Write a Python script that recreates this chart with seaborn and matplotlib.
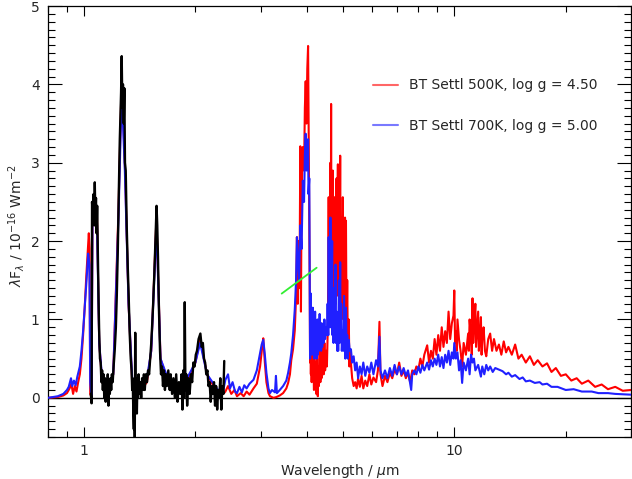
import numpy as np
import pandas as pd
import seaborn as sns
import matplotlib.pyplot as plt
import matplotlib.ticker as ticker

# observed spectrum (black), wavelength in micron, flux in 1e-16 W m^-2
obs_wave = [1.044, 1.049, 1.052, 1.057, 1.062, 1.066, 1.070, 1.074, 1.078, 1.082, 1.086, 1.090,
            1.095, 1.100, 1.105, 1.110, 1.115, 1.120, 1.125, 1.130, 1.135, 1.140, 1.145, 1.150,
            1.155, 1.160, 1.165, 1.170, 1.175, 1.180, 1.185, 1.190, 1.196, 1.203, 1.211, 1.220,
            1.227, 1.235, 1.242, 1.250, 1.255, 1.260, 1.265, 1.270, 1.275, 1.281, 1.286, 1.291,
            1.297, 1.305, 1.313, 1.321, 1.330, 1.338, 1.345, 1.350, 1.355, 1.360, 1.364, 1.368,
            1.372, 1.376, 1.380, 1.385, 1.390, 1.395, 1.400, 1.405, 1.412, 1.420, 1.428, 1.436,
            1.444, 1.452, 1.460, 1.470, 1.480, 1.490, 1.500, 1.510, 1.520, 1.535, 1.550, 1.562,
            1.571, 1.578, 1.585, 1.595, 1.605, 1.615, 1.625, 1.635, 1.645, 1.655, 1.665, 1.675,
            1.690, 1.705, 1.715, 1.730, 1.745, 1.760, 1.775, 1.790, 1.805, 1.820, 1.835, 1.845,
            1.855, 1.865, 1.872, 1.880, 1.890, 1.900, 1.915, 1.930, 1.945, 1.960, 1.975, 1.990,
            2.005, 2.020, 2.040, 2.063, 2.080, 2.095, 2.110, 2.125, 2.140, 2.155, 2.170, 2.185,
            2.200, 2.215, 2.230, 2.245, 2.260, 2.275, 2.290, 2.305, 2.320, 2.335, 2.350, 2.365,
            2.380, 2.393]
obs_flux = [0.05, -0.07, 2.5, 2.3, 2.6, 2.2, 2.75, 2.3, 2.55, 2.1, 2.45, 1.9,
            1.3, 0.8, 0.5, 0.45, 0.2, 0.35, 0.1, 0.3, 0.0, 0.25, -0.05, 0.2,
            0.05, 0.3, -0.1, 0.2, 0.05, 0.25, 0.1, 0.3, 0.2, 0.4, 0.6, 0.9,
            1.3, 1.9, 2.6, 3.3, 3.6, 3.9, 4.36, 3.7, 4.0, 3.5, 3.95, 3.0,
            2.9, 2.2, 1.7, 1.3, 0.8, 0.5, 0.35, 0.1, 0.2, -0.2, -0.4, 0.25,
            -0.5, 0.83, -0.1, 0.2, -0.2, 0.25, 0.0, 0.3, 0.05, 0.2, 0.0, 0.25,
            0.1, 0.3, 0.1, 0.3, 0.2, 0.35, 0.3, 0.5, 0.7, 1.1, 1.6, 2.1,
            2.45, 2.2, 1.8, 1.1, 0.6, 0.3, 0.4, 0.15, 0.35, 0.1, 0.3, 0.15,
            0.35, 0.1, 0.3, 0.05, 0.25, 0.0, 0.3, -0.05, 0.2, 0.05, 0.3, -0.15,
            0.35, 0.0, 1.22, 0.1, 0.3, -0.1, 0.25, 0.05, 0.3, 0.2, 0.45, 0.4,
            0.55, 0.6, 0.75, 0.82, 0.65, 0.7, 0.5, 0.45, 0.3, 0.35, 0.15, 0.2,
            -0.05, 0.15, 0.05, 0.2, -0.1, 0.15, -0.15, 0.1, 0.0, 0.25, -0.15, 0.15,
            0.05, 0.47]

# BT Settl 500K, log g = 4.50 (red)
red_wave = [0.80, 0.85, 0.88, 0.90, 0.915, 0.925, 0.935, 0.945, 0.955, 0.965, 0.975, 0.985,
            0.995, 1.005, 1.015, 1.025, 1.031, 1.036, 1.040, 1.049, 1.055, 1.07, 1.085, 1.10,
            1.12, 1.16, 1.20, 1.24, 1.265, 1.29, 1.32, 1.35, 1.40, 1.48, 1.52, 1.57,
            1.61, 1.70, 1.85, 2.00, 2.06, 2.15, 2.30, 2.38,
            2.41, 2.45, 2.50, 2.55, 2.59, 2.65, 2.70, 2.75, 2.80, 2.87, 2.93, 2.99,
            3.03, 3.05, 3.08, 3.11, 3.15, 3.18, 3.25, 3.31, 3.38, 3.45, 3.52, 3.56,
            3.60, 3.63, 3.67, 3.71, 3.74, 3.76, 3.78, 3.80, 3.82, 3.84, 3.855, 3.87,
            3.90, 3.93, 3.95, 3.97, 3.99, 4.01, 4.03, 4.05, 4.07,
            4.08, 4.09, 4.10, 4.11, 4.12, 4.13, 4.15, 4.16, 4.18, 4.19, 4.21, 4.22,
            4.24, 4.26, 4.28, 4.29, 4.31, 4.33, 4.35, 4.36, 4.38, 4.39, 4.41, 4.42,
            4.44, 4.46, 4.48, 4.51, 4.53, 4.55, 4.57, 4.58, 4.59, 4.60, 4.61, 4.63,
            4.64, 4.65, 4.66, 4.67, 4.68, 4.70, 4.71, 4.73, 4.74, 4.75, 4.76, 4.78,
            4.79, 4.81, 4.82, 4.85, 4.86, 4.88, 4.90, 4.92, 4.93, 4.95, 4.97, 5.00,
            5.02, 5.04, 5.05, 5.07, 5.08, 5.10, 5.12, 5.14, 5.16, 5.19, 5.21, 5.22,
            5.26, 5.30, 5.35, 5.40, 5.45, 5.50, 5.56, 5.62, 5.68, 5.75, 5.82, 5.90,
            5.97, 6.05, 6.15, 6.22, 6.28, 6.32, 6.40, 6.50, 6.60, 6.70, 6.80, 6.90,
            7.00, 7.10, 7.20, 7.30, 7.40, 7.50, 7.60, 7.70, 7.80, 7.90, 8.00, 8.10,
            8.20, 8.30, 8.45, 8.55, 8.65, 8.75, 8.85, 8.95, 9.05, 9.15, 9.25, 9.35,
            9.45, 9.55, 9.65, 9.75, 9.85, 9.95, 10.0, 10.05, 10.1, 10.15, 10.2, 10.3,
            10.4, 10.5, 10.6, 10.75, 10.9, 10.95, 11.0, 11.1, 11.15, 11.2, 11.25, 11.3,
            11.4, 11.45, 11.5, 11.6, 11.65, 11.7, 11.8, 11.85, 11.9, 12.0, 12.1, 12.2,
            12.35, 12.5, 12.65, 12.8, 13.0, 13.2, 13.4, 13.6, 13.8, 14.0, 14.3, 14.6,
            14.9, 15.2, 15.6, 16.0, 16.4, 16.8, 17.3, 17.8, 18.3, 18.8, 19.4, 20.0,
            20.7, 21.4, 22.1, 23.0, 24.0, 25.0, 26.0, 27.2, 28.5, 30.0]
red_flux = [0.0, 0.01, 0.03, 0.06, 0.12, 0.18, 0.05, 0.15, 0.08, 0.2, 0.3, 0.5,
            0.8, 1.15, 1.55, 1.9, 2.1, 1.9, 0.05, 0.0, 2.4, 2.6, 2.3, 0.7,
            0.2, 0.1, 0.3, 2.4, 4.1, 3.0, 1.2, 0.2, 0.05, 0.2, 0.6, 2.3,
            0.5, 0.15, 0.1, 0.45, 0.75, 0.3, 0.05, 0.05,
            0.08, 0.15, 0.05, 0.1, 0.02, 0.06, 0.02, 0.08, 0.04, 0.12, 0.18, 0.4,
            0.65, 0.76, 0.45, 0.2, 0.06, 0.02, 0.0, 0.01, 0.03, 0.06, 0.12, 0.19,
            0.3, 0.48, 0.62, 0.86, 1.3, 2.05, 1.2, 2.0, 1.4, 3.21, 1.1, 2.6,
            3.2, 2.9, 3.7, 4.04, 3.5, 4.2, 4.49, 3.0, 1.5,
            0.45, 0.9, 0.3, 0.8, 0.2, 0.6, 0.25, 0.55, 0.1, 0.5, 0.2, 0.45,
            0.05, 0.5, 0.02, 0.4, 0.15, 0.6, 0.2, 0.5, 0.25, 0.65, 0.3, 0.55,
            0.3, 0.7, 0.35, 0.6, 0.4, 0.8, 1.5, 2.56, 1.2, 2.3, 1.0, 3.0,
            1.5, 3.75, 1.3, 2.2, 1.2, 2.9, 1.4, 2.4, 1.1, 2.56, 1.3, 2.1,
            1.2, 2.8, 1.4, 2.98, 1.3, 2.2, 1.2, 3.09, 1.5, 2.3, 1.1, 2.56,
            1.0, 1.7, 0.9, 2.3, 1.2, 2.26, 0.8, 1.5, 0.6, 1.0, 0.4, 0.6,
            0.44, 0.25, 0.15, 0.2, 0.12, 0.25, 0.14, 0.28, 0.12, 0.22, 0.15, 0.3,
            0.17, 0.26, 0.2, 0.35, 0.97, 0.3, 0.15, 0.28, 0.2, 0.32, 0.25, 0.36,
            0.3, 0.45, 0.28, 0.35, 0.25, 0.32, 0.2, 0.35, 0.3, 0.4, 0.36, 0.5,
            0.4, 0.55, 0.67, 0.45, 0.6, 0.5, 0.75, 0.55, 0.8, 0.6, 0.9, 0.65,
            0.85, 0.7, 1.1, 0.75, 0.95, 1.05, 1.37, 0.7, 0.85, 0.6, 1.0, 0.74,
            0.6, 0.4, 0.7, 0.55, 0.82, 0.6, 1.0, 0.75, 0.55, 1.27, 0.7, 0.9,
            1.2, 0.65, 0.8, 1.1, 0.6, 0.7, 1.03, 0.55, 0.75, 0.9, 0.6, 0.53,
            0.75, 0.82, 0.6, 0.75, 0.6, 0.68, 0.55, 0.72, 0.58, 0.65, 0.55, 0.68,
            0.5, 0.55, 0.45, 0.53, 0.42, 0.48, 0.4, 0.44, 0.33, 0.38, 0.28, 0.3,
            0.22, 0.25, 0.18, 0.22, 0.14, 0.17, 0.11, 0.14, 0.09, 0.1]

# BT Settl 700K, log g = 5.00 (blue)
blue_wave = [0.80, 0.85, 0.88, 0.90, 0.91, 0.923, 0.93, 0.94, 0.95, 0.96, 0.975, 0.985,
             0.995, 1.005, 1.015, 1.027, 1.035, 1.040, 1.049, 1.055, 1.07, 1.085, 1.10, 1.12,
             1.16, 1.20, 1.24, 1.265, 1.29, 1.32, 1.35, 1.40, 1.48, 1.52, 1.57, 1.61,
             1.70, 1.85, 2.00, 2.06, 2.15, 2.30, 2.38,
             2.41, 2.45, 2.48, 2.52, 2.56, 2.59, 2.63, 2.67, 2.71, 2.75, 2.80, 2.87,
             2.93, 2.99, 3.02, 3.05, 3.08, 3.11, 3.15, 3.18, 3.22, 3.28, 3.30, 3.32,
             3.38, 3.45, 3.52, 3.56, 3.60, 3.63, 3.67, 3.71, 3.74, 3.76, 3.79, 3.81,
             3.84, 3.87, 3.90, 3.93, 3.95, 3.97, 3.99, 4.01, 4.03, 4.04, 4.06, 4.07,
             4.08, 4.09, 4.10, 4.11, 4.12, 4.13, 4.15, 4.16, 4.18, 4.19, 4.21, 4.22,
             4.24, 4.25, 4.27, 4.28, 4.30, 4.31, 4.33, 4.34, 4.36, 4.37, 4.39, 4.40,
             4.42, 4.44, 4.46, 4.48, 4.51, 4.53, 4.55, 4.57, 4.58, 4.59, 4.61, 4.62,
             4.63, 4.64, 4.65, 4.66, 4.68, 4.69, 4.71, 4.72, 4.75, 4.76, 4.78, 4.79,
             4.81, 4.83, 4.85, 4.86, 4.88, 4.90, 4.92, 4.93, 4.95, 4.97, 5.00, 5.02,
             5.04, 5.05, 5.07, 5.08, 5.10, 5.12, 5.14, 5.16, 5.19, 5.22,
             5.26, 5.30, 5.35, 5.40, 5.45, 5.50, 5.56, 5.62, 5.68, 5.75, 5.82, 5.90,
             5.97, 6.05, 6.15, 6.22, 6.28, 6.32, 6.40, 6.50, 6.60, 6.70, 6.80, 6.90,
             7.00, 7.10, 7.20, 7.30, 7.40, 7.50, 7.65, 7.70, 7.80, 7.90, 8.00, 8.10,
             8.20, 8.30, 8.45, 8.55, 8.65, 8.75, 8.85, 8.95, 9.05, 9.15, 9.25, 9.35,
             9.45, 9.55, 9.65, 9.75, 9.85, 9.95, 10.0, 10.1, 10.2, 10.3, 10.4, 10.5,
             10.6, 10.75, 10.9, 11.0, 11.1, 11.2, 11.3, 11.4, 11.6, 11.8, 11.9, 12.05,
             12.2, 12.35, 12.5, 12.7, 12.9, 13.2, 13.5, 13.8, 14.0, 14.3, 14.6, 15.0,
             15.3, 15.6, 16.0, 16.5, 17.0, 17.3, 17.8, 18.3, 19.0, 20.0, 21.0, 22.1,
             23.5, 24.5, 26.0, 27.2, 28.5, 30.0]
blue_flux = [0.0, 0.02, 0.05, 0.1, 0.14, 0.25, 0.15, 0.22, 0.16, 0.27, 0.4, 0.6,
             0.85, 1.15, 1.45, 1.84, 1.7, 0.2, 0.0, 2.3, 2.5, 2.2, 0.7, 0.25,
             0.15, 0.3, 2.3, 3.9, 2.9, 1.2, 0.25, 0.1, 0.25, 0.6, 2.2, 0.5,
             0.2, 0.15, 0.45, 0.7, 0.3, 0.1, 0.1,
             0.23, 0.3, 0.12, 0.2, 0.08, 0.06, 0.14, 0.07, 0.16, 0.12, 0.18, 0.23,
             0.35, 0.57, 0.68, 0.74, 0.55, 0.32, 0.12, 0.06, 0.1, 0.07, 0.28, 0.06,
             0.1, 0.15, 0.22, 0.32, 0.45, 0.57, 0.8, 1.13, 1.5, 2.05, 1.69, 1.5,
             2.2, 1.9, 2.77, 2.5, 3.1, 3.37, 2.9, 3.25, 3.3, 2.6, 2.8, 1.5,
             0.5, 1.0, 1.33, 0.6, 1.0, 0.55, 1.15, 0.6, 1.05, 0.5, 1.1, 0.6,
             0.95, 0.5, 1.0, 0.55, 0.9, 0.6, 1.07, 0.65, 0.95, 0.6, 0.95, 0.65,
             0.9, 0.7, 1.0, 0.75, 0.9, 0.8, 1.2, 0.8, 2.05, 1.0, 1.6, 0.9,
             2.3, 1.0, 1.73, 0.9, 2.0, 0.8, 1.4, 0.7, 1.3, 0.8, 1.7, 0.7,
             1.1, 0.6, 1.0, 0.6, 1.5, 0.7, 1.73, 0.8, 1.2, 0.6, 0.86, 0.6,
             1.3, 0.7, 0.9, 0.5, 1.15, 0.55, 0.8, 0.5, 0.74, 0.6,
             0.62, 0.45, 0.53, 0.35, 0.45, 0.25, 0.4, 0.3, 0.45, 0.28, 0.4, 0.32,
             0.45, 0.3, 0.48, 0.4, 0.78, 0.35, 0.25, 0.35, 0.25, 0.38, 0.28, 0.42,
             0.3, 0.4, 0.3, 0.38, 0.28, 0.35, 0.1, 0.3, 0.35, 0.3, 0.4, 0.32,
             0.42, 0.35, 0.45, 0.36, 0.48, 0.4, 0.5, 0.42, 0.55, 0.4, 0.52, 0.38,
             0.55, 0.45, 0.6, 0.42, 0.58, 0.5, 0.7, 0.5, 0.58, 0.35, 0.48, 0.19,
             0.45, 0.35, 0.5, 0.3, 0.55, 0.45, 0.5, 0.35, 0.42, 0.27, 0.4, 0.3,
             0.42, 0.35, 0.4, 0.33, 0.38, 0.36, 0.34, 0.3, 0.32, 0.27, 0.29, 0.24,
             0.26, 0.21, 0.22, 0.19, 0.2, 0.17, 0.18, 0.14, 0.14, 0.1, 0.11, 0.08,
             0.08, 0.06, 0.06, 0.05, 0.045, 0.04]

# green photometry segment
green_wave = [3.42, 4.25]
green_flux = [1.33, 1.66]

labels = ["BT Settl 500K, log g = 4.50", "BT Settl 700K, log g = 5.00"]

sns.set_style("ticks")
plt.rcParams['font.family'] = ['DejaVu Sans']
fig = plt.figure(figsize=(6.32, 4.79), dpi=100)
ax = fig.add_axes([48 / 632, 1 - 437 / 479, 583 / 632, 431 / 479])

ax.axhline(0, color='k', lw=1.0, zorder=1)
sns.lineplot(x=red_wave, y=red_flux, ax=ax, color='#ff0000', lw=1.5, sort=False,
             estimator=None, label=labels[0], zorder=2)
sns.lineplot(x=blue_wave, y=blue_flux, ax=ax, color='#2020ff', lw=1.5, sort=False,
             estimator=None, label=labels[1], zorder=3)
sns.lineplot(x=obs_wave, y=obs_flux, ax=ax, color='k', lw=1.7, sort=False,
             estimator=None, zorder=4)
sns.lineplot(x=green_wave, y=green_flux, ax=ax, color='#33ee33', lw=1.3, sort=False,
             estimator=None, zorder=5)

ax.set_xscale('log')
ax.set_xlim(0.8, 30)
ax.set_ylim(-0.5, 5)

ax.xaxis.set_major_locator(ticker.FixedLocator([1, 10]))
ax.xaxis.set_major_formatter(ticker.FixedFormatter(["1", "10"]))
ax.xaxis.set_minor_locator(ticker.LogLocator(base=10, subs=np.arange(2, 10)))
ax.xaxis.set_minor_formatter(ticker.NullFormatter())
ax.yaxis.set_major_locator(ticker.MultipleLocator(1))
ax.yaxis.set_minor_locator(ticker.MultipleLocator(0.1))

ax.tick_params(which='both', direction='in', top=True, right=True, width=0.8,
               labelsize=10, color='k')
ax.tick_params(axis='x', which='major', length=7, pad=5)
ax.tick_params(axis='x', which='minor', length=4)
ax.tick_params(axis='y', which='major', length=10, pad=6)
ax.tick_params(axis='y', which='minor', length=5)
for s in ax.spines.values():
    s.set_linewidth(0.9)
    s.set_color('k')

ax.set_xlabel(r"Wavelength / $\mu$m", fontsize=10)
ax.set_ylabel(r"$\lambda$F$_\lambda$ / 10$^{-16}$ Wm$^{-2}$", fontsize=10)
ax.xaxis.set_label_coords(0.5, -0.058)
ax.yaxis.set_label_coords(-0.036, 0.49)

leg = ax.legend(frameon=False, loc='upper left', bbox_to_anchor=(0.536, 0.861),
                fontsize=10, handlelength=1.8, handletextpad=0.8, labelspacing=1.9)
for line in leg.get_lines():
    line.set_alpha(0.6)
    line.set_linewidth(1.5)

fig.savefig("out.png", dpi=100)
